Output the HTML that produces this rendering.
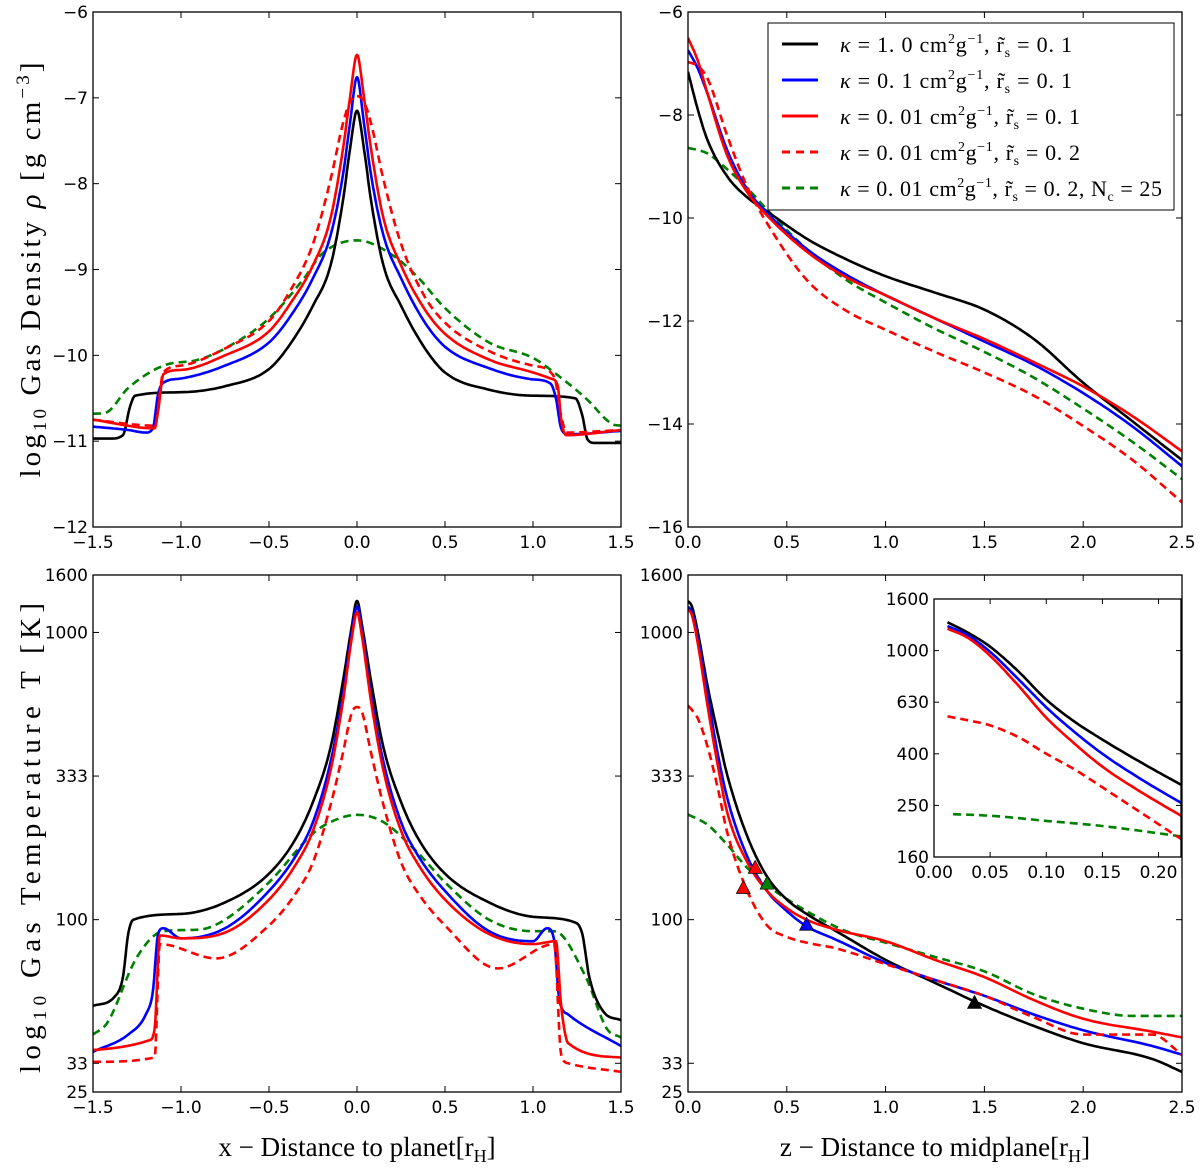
<!DOCTYPE html>
<html><head><meta charset="utf-8"><style>
html,body{margin:0;padding:0;background:#fff;}
svg{display:block;}
.tk{font-family:"DejaVu Sans","Liberation Sans",sans-serif;font-size:17px;fill:#000;}
.lab{font-family:"Liberation Serif","DejaVu Serif",serif;font-size:29px;fill:#000;}
.xlab{font-family:"Liberation Serif","DejaVu Serif",serif;font-size:27px;fill:#000;}
.leg{font-family:"Liberation Serif","DejaVu Serif",serif;font-size:22px;fill:#000;}
</style></head><body>
<svg id="fig" width="1200" height="1170" viewBox="0 0 1200 1170" xmlns="http://www.w3.org/2000/svg">
<text class="lab" transform="translate(40,270) rotate(-90)" text-anchor="middle" textLength="415" lengthAdjust="spacing">log<tspan font-size="19" dy="6">10</tspan><tspan dy="-6"> Gas Density  </tspan><tspan font-style="italic">ρ</tspan> [g cm<tspan font-size="19" dy="-11">−3</tspan><tspan dy="11">]</tspan></text>
<text class="lab" transform="translate(40,838) rotate(-90)" text-anchor="middle" textLength="470" lengthAdjust="spacing">log<tspan font-size="19" dy="6">10</tspan><tspan dy="-6"> Gas Temperature  T [K]</tspan></text>
<text class="xlab" x="357" y="1156" text-anchor="middle">x − Distance to planet[r<tspan font-size="18" dy="6">H</tspan><tspan dy="-6">]</tspan></text>
<text class="xlab" x="935" y="1156" text-anchor="middle">z − Distance to midplane[r<tspan font-size="18" dy="6">H</tspan><tspan dy="-6">]</tspan></text>
</svg>
<script>
// ---------- data (top-left: log10 density vs x) ----------
const tlBlackX=[-1.5,-1.4,-1.33,-1.29,-1.26,-1.0,-0.75,-0.5,-0.38,-0.25,-0.15,-0.08,-0.04,0,0.04,0.08,0.15,0.25,0.38,0.5,0.75,1.0,1.24,1.28,1.31,1.35,1.5];
const tlBlackY=[-10.97,-10.97,-10.93,-10.6,-10.47,-10.43,-10.36,-10.16,-9.87,-9.42,-8.95,-8.2,-7.6,-7.15,-7.6,-8.2,-8.95,-9.42,-9.9,-10.2,-10.4,-10.47,-10.5,-10.7,-10.98,-11.02,-11.02];
const tlBlueX=[-1.5,-1.3,-1.2,-1.16,-1.13,-1.1,-1.0,-0.75,-0.5,-0.38,-0.25,-0.15,-0.08,-0.04,0,0.04,0.08,0.15,0.25,0.38,0.5,0.75,1.0,1.1,1.13,1.16,1.2,1.5];
const tlBlueY=[-10.83,-10.87,-10.9,-10.85,-10.45,-10.32,-10.27,-10.12,-9.85,-9.55,-9.1,-8.6,-7.9,-7.3,-6.76,-7.3,-7.9,-8.6,-9.1,-9.6,-9.9,-10.15,-10.28,-10.33,-10.5,-10.85,-10.92,-10.88];
const tlRedX=[-1.5,-1.15,-1.13,-1.1,-1.0,-0.75,-0.5,-0.38,-0.25,-0.15,-0.08,-0.04,0,0.04,0.08,0.15,0.25,0.38,0.5,0.75,1.0,1.1,1.14,1.16,1.19,1.5];
const tlRedY=[-10.75,-10.85,-10.65,-10.22,-10.17,-10.0,-9.72,-9.4,-8.95,-8.4,-7.6,-7.0,-6.5,-7.0,-7.6,-8.4,-8.95,-9.45,-9.75,-10.05,-10.2,-10.27,-10.35,-10.75,-10.93,-10.87];
const tlRedDashX=[-1.5,-1.15,-1.1,-1.0,-0.75,-0.5,-0.38,-0.25,-0.15,-0.08,-0.04,0,0.04,0.08,0.15,0.25,0.38,0.5,0.75,1.0,1.12,1.16,1.19,1.5];
const tlRedDashY=[-10.75,-10.82,-10.2,-10.12,-9.92,-9.6,-9.25,-8.7,-7.95,-7.3,-7.05,-6.98,-7.05,-7.3,-7.95,-8.7,-9.3,-9.62,-9.95,-10.12,-10.25,-10.7,-10.9,-10.87];
const tlGreenX=[-1.5,-1.43,-1.3,-1.1,-0.9,-0.75,-0.5,-0.3,-0.2,0,0.2,0.35,0.5,0.75,1.0,1.12,1.3,1.45,1.5];
const tlGreenY=[-10.68,-10.67,-10.38,-10.12,-10.05,-9.92,-9.57,-9.1,-8.82,-8.66,-8.83,-9.1,-9.45,-9.85,-10.03,-10.2,-10.5,-10.8,-10.82];
// ---------- top-right: log10 density vs z ----------
const trX=[0,0.05,0.1,0.2,0.3,0.4,0.6,0.8,1.0,1.25,1.5,1.75,2.0,2.25,2.5];
const trBlackY=[-7.16,-7.9,-8.5,-9.2,-9.6,-9.87,-10.4,-10.8,-11.13,-11.45,-11.78,-12.35,-13.2,-13.95,-14.7];
const trBlueY=[-6.74,-7.1,-7.6,-8.7,-9.45,-9.9,-10.6,-11.1,-11.5,-11.95,-12.4,-12.85,-13.4,-14.05,-14.82];
const trRedY=[-6.5,-6.95,-7.6,-8.8,-9.5,-9.95,-10.65,-11.15,-11.5,-11.95,-12.35,-12.8,-13.27,-13.85,-14.53];
const trRedDashY=[-6.97,-7.05,-7.3,-8.42,-9.4,-10.1,-11.2,-11.8,-12.17,-12.6,-13.0,-13.45,-14.04,-14.7,-15.52];
const trGreenY=[-8.64,-8.68,-8.75,-9.06,-9.42,-9.84,-10.6,-11.2,-11.64,-12.15,-12.6,-13.1,-13.7,-14.35,-15.07];
// ---------- bottom-left: log10 T vs x ----------
const blBlackX=[-1.5,-1.38,-1.33,-1.3,-1.27,-1.0,-0.75,-0.5,-0.35,-0.25,-0.15,-0.08,-0.03,0,0.03,0.08,0.15,0.25,0.35,0.5,0.75,1.0,1.24,1.28,1.32,1.4,1.5];
const blBlackY=[1.70,1.73,1.8,1.95,2.0,2.02,2.06,2.16,2.28,2.41,2.6,2.83,3.02,3.11,3.02,2.83,2.6,2.41,2.28,2.16,2.06,2.01,1.99,1.95,1.8,1.68,1.65];
const blBlueX=[-1.5,-1.3,-1.2,-1.16,-1.13,-1.1,-1.0,-0.75,-0.5,-0.35,-0.25,-0.15,-0.08,-0.03,0,0.03,0.08,0.15,0.25,0.35,0.5,0.75,1.0,1.08,1.12,1.15,1.2,1.5];
const blBlueY=[1.54,1.6,1.67,1.75,1.95,1.97,1.935,1.97,2.1,2.22,2.34,2.55,2.78,3.0,3.09,3.0,2.78,2.55,2.34,2.22,2.1,1.96,1.925,1.97,1.93,1.72,1.67,1.56];
const blRedX=[-1.5,-1.18,-1.15,-1.12,-1.0,-0.75,-0.5,-0.35,-0.25,-0.15,-0.08,-0.03,0,0.03,0.08,0.15,0.25,0.35,0.5,0.75,1.0,1.13,1.16,1.2,1.5];
const blRedY=[1.546,1.58,1.62,1.945,1.935,1.955,2.07,2.19,2.31,2.52,2.76,2.98,3.07,2.98,2.76,2.52,2.31,2.19,2.07,1.95,1.915,1.925,1.7,1.57,1.52];
const blRedDashX=[-1.5,-1.15,-1.12,-0.8,-0.5,-0.35,-0.25,-0.15,-0.08,-0.03,0,0.03,0.08,0.15,0.25,0.35,0.5,0.8,1.12,1.16,1.2,1.5];
const blRedDashY=[1.505,1.52,1.915,1.865,1.98,2.09,2.2,2.4,2.58,2.72,2.74,2.72,2.58,2.4,2.2,2.09,1.98,1.83,1.915,1.53,1.5,1.47];
const blGreenX=[-1.5,-1.42,-1.25,-1.1,-0.9,-0.75,-0.5,-0.25,-0.15,0,0.15,0.35,0.5,0.75,1.0,1.12,1.3,1.42,1.5];
const blGreenY=[1.6,1.64,1.87,1.96,1.965,2.0,2.13,2.3,2.34,2.365,2.34,2.23,2.13,2.0,1.96,1.96,1.8,1.62,1.59];
// ---------- bottom-right: log10 T vs z ----------
const brX=[0,0.02,0.05,0.1,0.15,0.2,0.3,0.4,0.5,0.6,0.75,1.0,1.25,1.5,1.75,2.0,2.35,2.5];
const brBlackY=[3.11,3.09,3.0,2.81,2.65,2.5,2.29,2.15,2.07,2.02,1.96,1.86,1.78,1.70,1.63,1.57,1.515,1.47];
const brBlueY=[3.09,3.07,2.98,2.78,2.58,2.42,2.22,2.1,2.03,1.977,1.93,1.85,1.79,1.735,1.67,1.615,1.56,1.53];
const brRedY=[3.08,3.06,2.96,2.74,2.54,2.37,2.2,2.1,2.04,2.0,1.965,1.925,1.86,1.8,1.72,1.655,1.61,1.59];
const brRedDashY=[2.745,2.73,2.7,2.6,2.46,2.3,2.1,1.98,1.94,1.92,1.9,1.845,1.79,1.735,1.66,1.6,1.6,1.53];
const brGreenX=[0,0.05,0.1,0.2,0.3,0.4,0.6,0.8,1.0,1.25,1.5,1.75,2.0,2.25,2.5];
const brGreenY=[2.366,2.35,2.33,2.26,2.18,2.12,2.03,1.96,1.92,1.87,1.82,1.74,1.69,1.665,1.665];
const markerX=[0.34,0.28,0.40,0.60,1.45];
const markerY=[2.175,2.105,2.12,1.977,1.705];
const markerColor=["#ff0000","#ff0000","#008000","#0000ff","#000000"];
// ---------- inset ----------
const inX=[0.012,0.03,0.05,0.075,0.1,0.125,0.15,0.185,0.22];
const inBlackY=[3.11,3.07,3.015,2.92,2.81,2.725,2.655,2.565,2.48];
const inBlueY=[3.095,3.06,2.995,2.89,2.78,2.685,2.6,2.5,2.41];
const inRedY=[3.085,3.05,2.98,2.865,2.74,2.64,2.55,2.45,2.36];
const inRedDashY=[2.745,2.73,2.71,2.665,2.6,2.54,2.47,2.37,2.27];
const inGreenX=[0.017,0.05,0.1,0.15,0.22];
const inGreenY=[2.366,2.36,2.34,2.32,2.28];
// tick labels
const tlXTicks=[-1.5,-1.0,-0.5,0.0,0.5,1.0,1.5];
const tlYTicks=[-12,-11,-10,-9,-8,-7,-6];
const trXTicks=[0.0,0.5,1.0,1.5,2.0,2.5];
const trYTicks=[-16,-14,-12,-10,-8,-6];
const tYTickVals=[1.4,1.5,2,2.5,3,3.2];
const tYTickLabels=["25","33","100","333","1000","1600"];
const inXTicks=[0.00,0.05,0.10,0.15,0.20];
const inYTickVals=[2.2,2.4,2.6,2.8,3.0,3.2];
const inYTickLabels=["160","250","400","630","1000","1600"];

const NS="http://www.w3.org/2000/svg";
const svg=document.getElementById('fig');
function mk(tag,attrs,parent){const e=document.createElementNS(NS,tag);for(const k in attrs)e.setAttribute(k,attrs[k]);(parent||svg).appendChild(e);return e;}
function axis(x0,x1,y0,y1,xmin,xmax,ymin,ymax){
  return {sx:v=>x0+(v-xmin)/(xmax-xmin)*(x1-x0), sy:v=>y1-(v-ymin)/(ymax-ymin)*(y1-y0), x0,x1,y0,y1};
}
function frame(ax,name,xt,xl,yt,yl,dec,tl){
  const g=mk('g',{});
  
  
  xt.forEach((v,i)=>{const x=ax.sx(v);
    mk('line',{x1:x,x2:x,y1:ax.y1,y2:ax.y1-tl,stroke:'#000','stroke-width':1},g);
    mk('line',{x1:x,x2:x,y1:ax.y0,y2:ax.y0+tl,stroke:'#000','stroke-width':1},g);
    const t=mk('text',{x:x,y:ax.y1+21,'text-anchor':'middle',class:'tk'},g);
    
    
    t.textContent=xl?xl[i]:(v<0?'−':'')+Math.abs(v).toFixed(dec);});
  yt.forEach((v,i)=>{const y=ax.sy(v);
    mk('line',{x1:ax.x0,x2:ax.x0+tl,y1:y,y2:y,stroke:'#000','stroke-width':1},g);
    mk('line',{x1:ax.x1,x2:ax.x1-tl,y1:y,y2:y,stroke:'#000','stroke-width':1},g);
    const t=mk('text',{x:ax.x0-5,y:y+6,'text-anchor':'end',class:'tk'},g);
    
    
    t.textContent=yl?yl[i]:(v<0?'−':'')+Math.abs(v);});
  mk('rect',{x:ax.x0,y:ax.y0,width:ax.x1-ax.x0,height:ax.y1-ax.y0,fill:'none',stroke:'#000','stroke-width':1.3},g);
}
// monotone cubic (Fritsch-Carlson) sampling of data points
function smooth(xs,ys){
  const n=xs.length,d=[],m=[];
  for(let i=0;i<n-1;i++)d.push((ys[i+1]-ys[i])/(xs[i+1]-xs[i]));
  m[0]=d[0];m[n-1]=d[n-2];
  for(let i=1;i<n-1;i++)m[i]=(d[i-1]*d[i]<=0)?0:(d[i-1]+d[i])/2;
  for(let i=0;i<n-1;i++){if(d[i]===0){m[i]=0;m[i+1]=0;continue;}
    const a=m[i]/d[i],b=m[i+1]/d[i],s=a*a+b*b;
    if(s>9){const t=3/Math.sqrt(s);m[i]=t*a*d[i];m[i+1]=t*b*d[i];}}
  const px=[],py=[];
  for(let i=0;i<n-1;i++){const h=xs[i+1]-xs[i];
    for(let k=0;k<12;k++){const t=k/12,t2=t*t,t3=t2*t;
      px.push(xs[i]+t*h);
      py.push((2*t3-3*t2+1)*ys[i]+(t3-2*t2+t)*h*m[i]+(-2*t3+3*t2)*ys[i+1]+(t3-t2)*h*m[i+1]);}}
  px.push(xs[n-1]);py.push(ys[n-1]);
  return [px,py];
}
function line(ax,xs,ys,color,dash,name,clip){
  const [px,py]=smooth(xs,ys);
  const d=px.map((x,i)=>(i?'L':'M')+ax.sx(x).toFixed(1)+','+ax.sy(py[i]).toFixed(1)).join(' ');
  const p=mk('path',{d:d,fill:'none',stroke:color,'stroke-width':2.6,'stroke-linejoin':'round','stroke-dasharray':dash?'8,5':'none','clip-path':clip});
  
  
}
function clipFor(ax,id){const c=mk('clipPath',{id:id});mk('rect',{x:ax.x0,y:ax.y0,width:ax.x1-ax.x0,height:ax.y1-ax.y0},c);return 'url(#'+id+')';}

const TL=axis(93,621,12,527,-1.5,1.5,-12,-6);
const TR=axis(688,1182,12,527,0,2.5,-16,-6);
const BL=axis(93,621,575,1092,-1.5,1.5,1.4,3.2);
const BR=axis(688,1182,575,1092,0,2.5,1.4,3.2);
const IN=axis(934,1181,599,857,0,0.22,2.2,3.2);

let c=clipFor(TL,'c1');
line(TL,tlGreenX,tlGreenY,'#008000',true,'density-x-green-dashed',c);
line(TL,tlBlackX,tlBlackY,'#000000',false,'density-x-black',c);
line(TL,tlBlueX,tlBlueY,'#0000ff',false,'density-x-blue',c);
line(TL,tlRedDashX,tlRedDashY,'#ff0000',true,'density-x-red-dashed',c);
line(TL,tlRedX,tlRedY,'#ff0000',false,'density-x-red',c);
frame(TL,'density-x',tlXTicks,null,tlYTicks,null,1,6);

c=clipFor(TR,'c2');
line(TR,trX,trGreenY,'#008000',true,'density-z-green-dashed',c);
line(TR,trX,trBlackY,'#000000',false,'density-z-black',c);
line(TR,trX,trBlueY,'#0000ff',false,'density-z-blue',c);
line(TR,trX,trRedDashY,'#ff0000',true,'density-z-red-dashed',c);
line(TR,trX,trRedY,'#ff0000',false,'density-z-red',c);
frame(TR,'density-z',trXTicks,null,trYTicks,null,1,6);

c=clipFor(BL,'c3');
line(BL,blGreenX,blGreenY,'#008000',true,'temp-x-green-dashed',c);
line(BL,blBlackX,blBlackY,'#000000',false,'temp-x-black',c);
line(BL,blBlueX,blBlueY,'#0000ff',false,'temp-x-blue',c);
line(BL,blRedDashX,blRedDashY,'#ff0000',true,'temp-x-red-dashed',c);
line(BL,blRedX,blRedY,'#ff0000',false,'temp-x-red',c);
frame(BL,'temp-x',tlXTicks,null,tYTickVals,tYTickLabels,1,6);

c=clipFor(BR,'c4');
line(BR,brGreenX,brGreenY,'#008000',true,'temp-z-green-dashed',c);
line(BR,brX,brBlackY,'#000000',false,'temp-z-black',c);
line(BR,brX,brBlueY,'#0000ff',false,'temp-z-blue',c);
line(BR,brX,brRedDashY,'#ff0000',true,'temp-z-red-dashed',c);
line(BR,brX,brRedY,'#ff0000',false,'temp-z-red',c);
markerX.forEach((v,i)=>{const x=BR.sx(v),y=BR.sy(markerY[i]);
  const m=mk('path',{d:`M${x},${y-9} L${x+7},${y+4} L${x-7},${y+4} Z`,fill:markerColor[i],stroke:'#000','stroke-width':0.7});
  
  });
frame(BR,'temp-z',trXTicks,null,tYTickVals,tYTickLabels,1,6);

// inset
const bg=mk('rect',{x:IN.x0,y:IN.y0,width:IN.x1-IN.x0,height:IN.y1-IN.y0,fill:'#fff'});


c=clipFor(IN,'c5');
line(IN,inGreenX,inGreenY,'#008000',true,'inset-green-dashed',c);
line(IN,inX,inBlackY,'#000000',false,'inset-black',c);
line(IN,inX,inBlueY,'#0000ff',false,'inset-blue',c);
line(IN,inX,inRedDashY,'#ff0000',true,'inset-red-dashed',c);
line(IN,inX,inRedY,'#ff0000',false,'inset-red',c);
frame(IN,'inset',inXTicks,null,inYTickVals,inYTickLabels,2,5);

// legend
const lg=mk('g',{});


mk('rect',{x:768,y:23,width:406,height:187,fill:'#fff',stroke:'#000','stroke-width':1},lg);
const legColors=['#000000','#0000ff','#ff0000','#ff0000','#008000'];
const legDash=[false,false,false,true,true];
const legK=['1. 0','0. 1','0. 01','0. 01','0. 01'];
const legR=['0. 1','0. 1','0. 1','0. 2','0. 2'];
const legLen=[232,232,240,240,322];
legColors.forEach((col,i)=>{const y=44+i*36;
  const l=mk('line',{x1:782,x2:818,y1:y,y2:y,stroke:col,'stroke-width':3,'stroke-dasharray':legDash[i]?'8,6':'none'},lg);
  
  
  const t=mk('text',{x:840,y:y+8,class:'leg',textLength:legLen[i],lengthAdjust:'spacing'},lg);
  
  
  t.innerHTML=`<tspan font-style="italic">κ</tspan> = ${legK[i]} cm<tspan font-size="14" dy="-9">2</tspan><tspan dy="9">g</tspan><tspan font-size="14" dy="-9">−1</tspan><tspan dy="9">, r̃</tspan><tspan font-size="14" dy="5">s</tspan><tspan dy="-5"> = ${legR[i]}</tspan>`+(i==4?`, N<tspan font-size="14" dy="5">c</tspan><tspan dy="-5"> = 25</tspan>`:'');
});
</script>
</body></html>
